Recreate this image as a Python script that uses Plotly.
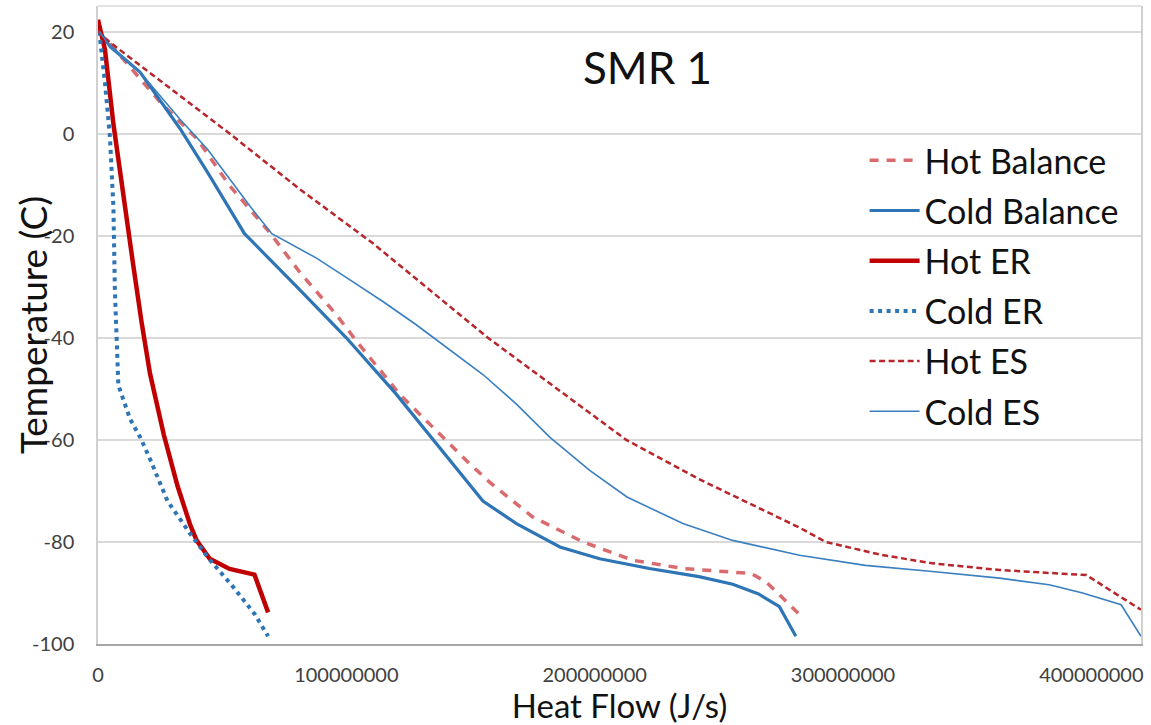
import plotly.graph_objects as go

# ---- data (Heat flow in J/s, temperature in C) ----
hot_bal_q = [0, 5e6, 25e6, 40e6, 53e6, 61e6, 69e6, 81e6, 96e6, 104e6, 121.5e6, 141.6e6, 148.4e6,
             157.7e6, 175e6, 195.3e6, 215.4e6, 235.5e6, 263e6, 269e6, 282e6]
hot_bal_t = [20, 17.5, 6.2, -1.1, -10.2, -14.7, -19.3, -27, -35.5, -40.6, -51.1, -60.8, -64.1,
             -68.3, -75.1, -80, -83.6, -85.2, -86.2, -87.8, -94]

cold_bal_q = [0.5e6, 5e6, 17e6, 33e6, 44e6, 50e6, 59e6, 80e6, 100e6, 120e6, 141.6e6, 155e6, 168.5e6,
              186e6, 202e6, 222e6, 242e6, 255.6e6, 266e6, 274.4e6, 281e6]
cold_bal_t = [20, 17, 12, 1, -7.5, -12.3, -19.6, -30, -40, -51, -64, -72, -76.4,
              -81, -83.3, -85.2, -86.8, -88.3, -90.2, -92.7, -98.5]

hot_er_q = [0, 1e6, 2.8e6, 6.2e6, 8.9e6, 10.9e6, 14.2e6, 17.6e6, 20.9e6, 26.5e6, 32e6, 37e6,
            39.7e6, 45e6, 53e6, 63e6, 68.5e6]
hot_er_t = [22.3, 20, 16.5, 1.9, -7.9, -14.3, -25.8, -37.1, -46.9, -59, -69, -76.5,
            -79.7, -83.3, -85.3, -86.4, -93.8]

cold_er_q = [0.5e6, 2.8e6, 4.8e6, 6.2e6, 6.8e6, 7.5e6, 8.2e6, 12.9e6, 17e6, 20.9e6, 28e6, 37e6,
             45e6, 54.4e6, 63.2e6, 68.5e6]
cold_er_t = [20, 10, -0.6, -14.3, -30.7, -42.8, -49.3, -55.9, -59.5, -63.7, -72, -78.3,
             -83.5, -88.8, -94.2, -98.5]

hot_es_q = [0, 5e6, 53e6, 81e6, 110.7e6, 157e6, 212.7e6, 242e6, 282.5e6, 293e6, 315e6, 336e6,
            363e6, 398e6, 420e6]
hot_es_t = [20, 17.8, 0, -10.8, -21.5, -40, -60, -67.7, -77.2, -80, -82.5, -84.2,
            -85.5, -86.5, -93.3]

cold_es_q = [0.5e6, 5e6, 17e6, 33e6, 44e6, 61e6, 70e6, 88e6, 101e6, 115e6, 128e6, 142e6, 155e6,
             168.5e6, 182e6, 198e6, 213e6, 235.5e6, 255.6e6, 282.5e6, 309e6, 336e6, 363e6, 383e6,
             396.5e6, 412e6, 420e6]
cold_es_t = [20, 17, 12, 2.8, -3, -14.1, -19.6, -24.4, -28.5, -33, -37.4, -42.5, -47.2,
             -53, -59.5, -66, -71.2, -76.4, -79.7, -82.6, -84.6, -85.8, -87.1, -88.4,
             -90, -92.3, -98.5]

y_ticks = [-100, -80, -60, -40, -20, 0, 20]
y_tick_labels = ["-100", "-80", "-60", "-40", "-20", "0", "20"]
x_ticks = [0, 100000000, 200000000, 300000000, 400000000]
x_tick_labels = ["0", "100000000", "200000000", "300000000", "400000000"]

FONT = "Lato"
BLUE = "#2e75b6"
L, R, T, B = 98, 10, 6, 81
W, H = 1151, 725
plot_w = W - L - R

fig = go.Figure()
series = [
    ("Hot Balance", hot_bal_q, hot_bal_t, dict(color="#d96b6e", width=3.5, dash="9px,8px")),
    ("Cold Balance", cold_bal_q, cold_bal_t, dict(color=BLUE, width=3.2)),
    ("Hot ER", hot_er_q, hot_er_t, dict(color="#c00000", width=4.5)),
    ("Cold ER", cold_er_q, cold_er_t, dict(color=BLUE, width=4, dash="4px,4.5px")),
    ("Hot ES", hot_es_q, hot_es_t, dict(color="#b8262b", width=2.5, dash="6px,3.5px")),
    ("Cold ES", cold_es_q, cold_es_t, dict(color="#3a7fc0", width=1.6)),
]
for name, q, t, line in series:
    fig.add_trace(go.Scatter(x=q, y=t, mode="lines", name=name, line=line,
                             legendgroup=name))

fig.update_layout(
    width=W, height=H,
    margin=dict(l=L, r=R, t=T, b=B),
    paper_bgcolor="white", plot_bgcolor="white",
    font=dict(family=FONT, color="#000000"),
    showlegend=True,
    legend=dict(x=0.735, y=0.803, xanchor="left", yanchor="top",
                bgcolor="rgba(0,0,0,0)", font=dict(size=34, family=FONT, color="#111111"),
                traceorder="grouped", tracegroupgap=3, itemwidth=50),
    annotations=[
        dict(text="SMR 1", xref="paper", yref="paper", x=0.527, y=0.905,
             xanchor="center", yanchor="middle", showarrow=False,
             font=dict(size=44, family=FONT, color="#111111")),
        dict(text="Temperature (C)", xref="paper", yref="paper",
             x=-(L - 32) / plot_w, y=0.5, xanchor="center", yanchor="middle",
             textangle=-90, showarrow=False,
             font=dict(size=37, family=FONT, color="#111111")),
    ],
    shapes=[dict(type="line", xref="paper", yref="paper", x0=0, x1=1, y0=1, y1=1,
                 line=dict(color="#d9d9d9", width=1.5))],
)
fig.update_xaxes(
    range=[0, 420e6], tickmode="array", tickvals=x_ticks, ticktext=x_tick_labels,
    showgrid=False, zeroline=False, showline=True, linecolor="#a6a6a6", linewidth=1.5,
    ticks="", ticklabelstandoff=12, automargin=False,
    tickfont=dict(size=20, family=FONT, color="#404040"),
    title=dict(text="Heat Flow (J/s)", font=dict(size=33, family=FONT, color="#111111"), standoff=8),
)
fig.update_yaxes(
    range=[-100, 25], tickmode="array", tickvals=y_ticks, ticktext=y_tick_labels,
    showgrid=True, gridcolor="#d9d9d9", gridwidth=1.5, zeroline=False,
    showline=True, linecolor="#d0d0d0", linewidth=1.5, mirror=True,
    ticks="", ticklabelstandoff=18, automargin=False,
    tickfont=dict(size=20, family=FONT, color="#404040"),
)

fig.write_html("out.html")
